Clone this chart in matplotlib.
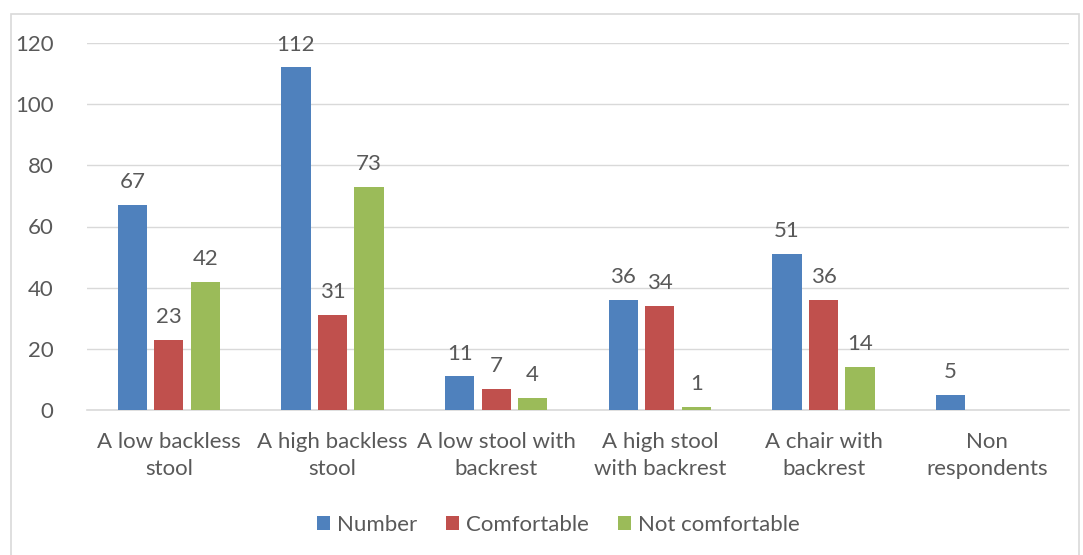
import matplotlib
matplotlib.use("Agg")
import matplotlib.pyplot as plt
import numpy as np
from matplotlib.patches import Rectangle

categories = ["A low backless\nstool", "A high backless\nstool", "A low stool with\nbackrest",
              "A high stool\nwith backrest", "A chair with\nbackrest", "Non\nrespondents"]
number = [67, 112, 11, 36, 51, 5]
comfortable = [23, 31, 7, 34, 36, None]
not_comfortable = [42, 73, 4, 1, 14, None]
series_names = ["Number", "Comfortable", "Not comfortable"]
colors = ["#4F81BD", "#C0504D", "#9BBB59"]
yticks = [0, 20, 40, 60, 80, 100, 120]

plt.rcParams['font.family'] = ['Lato', 'DejaVu Sans']
txt = "#595959"
fs = 16

fig = plt.figure(figsize=(10.83, 5.55), dpi=100)
W, H = 1083, 555
ax = fig.add_axes([87 / W, 1 - 410 / H, (1069 - 87) / W, (410 - 43) / H])

x = np.arange(len(categories))
bw = 0.178
off = 0.223
for i, (vals, name, c) in enumerate(zip([number, comfortable, not_comfortable], series_names, colors)):
    xs = [xi + (i - 1) * off for xi, v in zip(x, vals) if v is not None]
    vs = [v for v in vals if v is not None]
    ax.bar(xs, vs, width=bw, color=c, label=name, zorder=3)
    for xx, v in zip(xs, vs):
        ax.text(xx, v + 4.2, str(v), ha='center', va='bottom', fontsize=fs, color=txt)

ax.set_xlim(-0.5, len(categories) - 0.5)
ax.set_ylim(0, 120)
ax.set_yticks(yticks)
ax.set_xticks(x)
ax.set_xticklabels(categories, fontsize=fs, color=txt, linespacing=1.45)
ax.tick_params(axis='y', labelsize=fs, colors=txt, length=0, pad=24)
ax.tick_params(axis='x', length=0, pad=16)
ax.grid(axis='y', color='#D9D9D9', linewidth=1, zorder=0)
for s in ['top', 'right', 'left']:
    ax.spines[s].set_visible(False)
ax.spines['bottom'].set_color('#D9D9D9')
ax.spines['bottom'].set_linewidth(1.2)

leg = fig.legend(loc='center', bbox_to_anchor=(558 / W, 1 - 525 / H), ncol=3, frameon=False,
                 fontsize=fs, handlelength=0.6, handleheight=0.6, handletextpad=0.3, columnspacing=1.3)
for t in leg.get_texts():
    t.set_color(txt)

fig.patches.append(Rectangle((11 / W, -0.01), (1079 - 11) / W, 1 - 14 / H + 0.01, transform=fig.transFigure,
                             fill=False, edgecolor='#D9D9D9', linewidth=1.2))

fig.savefig("out.png", dpi=100)
